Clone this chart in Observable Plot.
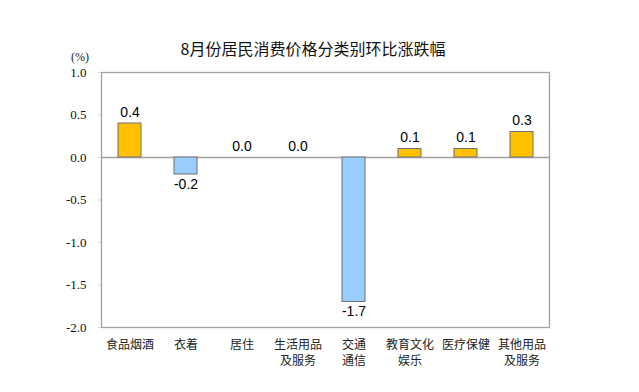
<!DOCTYPE html>
<html>
<head>
<meta charset="utf-8">
<script src="https://cdn.jsdelivr.net/npm/d3@7"></script>
<script src="https://cdn.jsdelivr.net/npm/@observablehq/plot@0.6"></script>
<style>
  html, body { margin: 0; padding: 0; background: #fff; }
  #wrap { position: relative; width: 639px; height: 392px; }
  #title { position: absolute; left: 0; width: 626px; top: 37px; text-align: center;
           font-family: "Noto Sans CJK SC", sans-serif; font-size: 16px; color: #111; line-height: 22px; }
  #unit { position: absolute; left: 71px; top: 50px; font-family: "Liberation Serif", serif; font-size: 12px; color: #222; }
  g[aria-label="y-axis tick label"] text { font-family: "Liberation Serif", "Times New Roman", serif; }
</style>
</head>
<body>
<div id="wrap">
  <div id="title">8月份居民消费价格分类别环比涨跌幅</div>
  <div id="unit">(%)</div>
</div>
<script>
const categories = ["食品烟酒", "衣着", "居住", "生活用品\n及服务", "交通\n通信", "教育文化\n娱乐", "医疗保健", "其他用品\n及服务"];
const values = [0.4, -0.2, 0.0, 0.0, -1.7, 0.1, 0.1, 0.3];
const yTicks = [-2.0, -1.5, -1.0, -0.5, 0.0, 0.5, 1.0];

const data = categories.map((c, i) => ({cat: c, v: values[i]}));
const pos = data.filter(d => d.v >= 0);
const neg = data.filter(d => d.v < 0);

const chart = Plot.plot({
  width: 639,
  height: 392,
  marginLeft: 101,
  marginRight: 90,
  marginTop: 72,
  marginBottom: 65,
  style: {background: "transparent", fontFamily: "Liberation Serif"},
  x: {domain: categories, paddingInner: 0.59, paddingOuter: 0.295, axis: null},
  y: {domain: [-2, 1], ticks: yTicks, tickFormat: d => d.toFixed(1), label: null},
  marks: [
    Plot.axisY({ticks: yTicks, tickFormat: d => d.toFixed(1), tickSize: 3, tickPadding: 12,
      stroke: "#d8d8d8", fill: "#111", fontSize: 13, fontFamily: "Liberation Serif", label: null}),
    Plot.frame({stroke: "#a0a0a0", strokeWidth: 1.3}),
    Plot.ruleY([0], {stroke: "#a0a0a0", strokeWidth: 1.3}),
    Plot.barY(data, {x: "cat", y: "v", fill: d => d.v >= 0 ? "#FFC000" : "#99CCFF", stroke: "#707070", strokeWidth: 1}),
    Plot.text(pos, {x: "cat", y: "v", text: d => d.v.toFixed(1), dy: -11,
      fontSize: 14, fontFamily: "Liberation Sans", fill: "#000"}),
    Plot.text(neg, {x: "cat", y: "v", text: d => d.v.toFixed(1), dy: 10,
      fontSize: 14, fontFamily: "Liberation Sans", fill: "#000"}),
    Plot.text(data, {x: "cat", y: () => -2, text: "cat", dy: 10, lineAnchor: "top", lineHeight: 1.33,
      fontSize: 12, fontFamily: "Noto Sans CJK SC", fill: "#222"})
  ]
});
chart.style.position = "absolute";
chart.style.left = "0";
chart.style.top = "0";
document.getElementById("wrap").appendChild(chart);
</script>
</body>
</html>
